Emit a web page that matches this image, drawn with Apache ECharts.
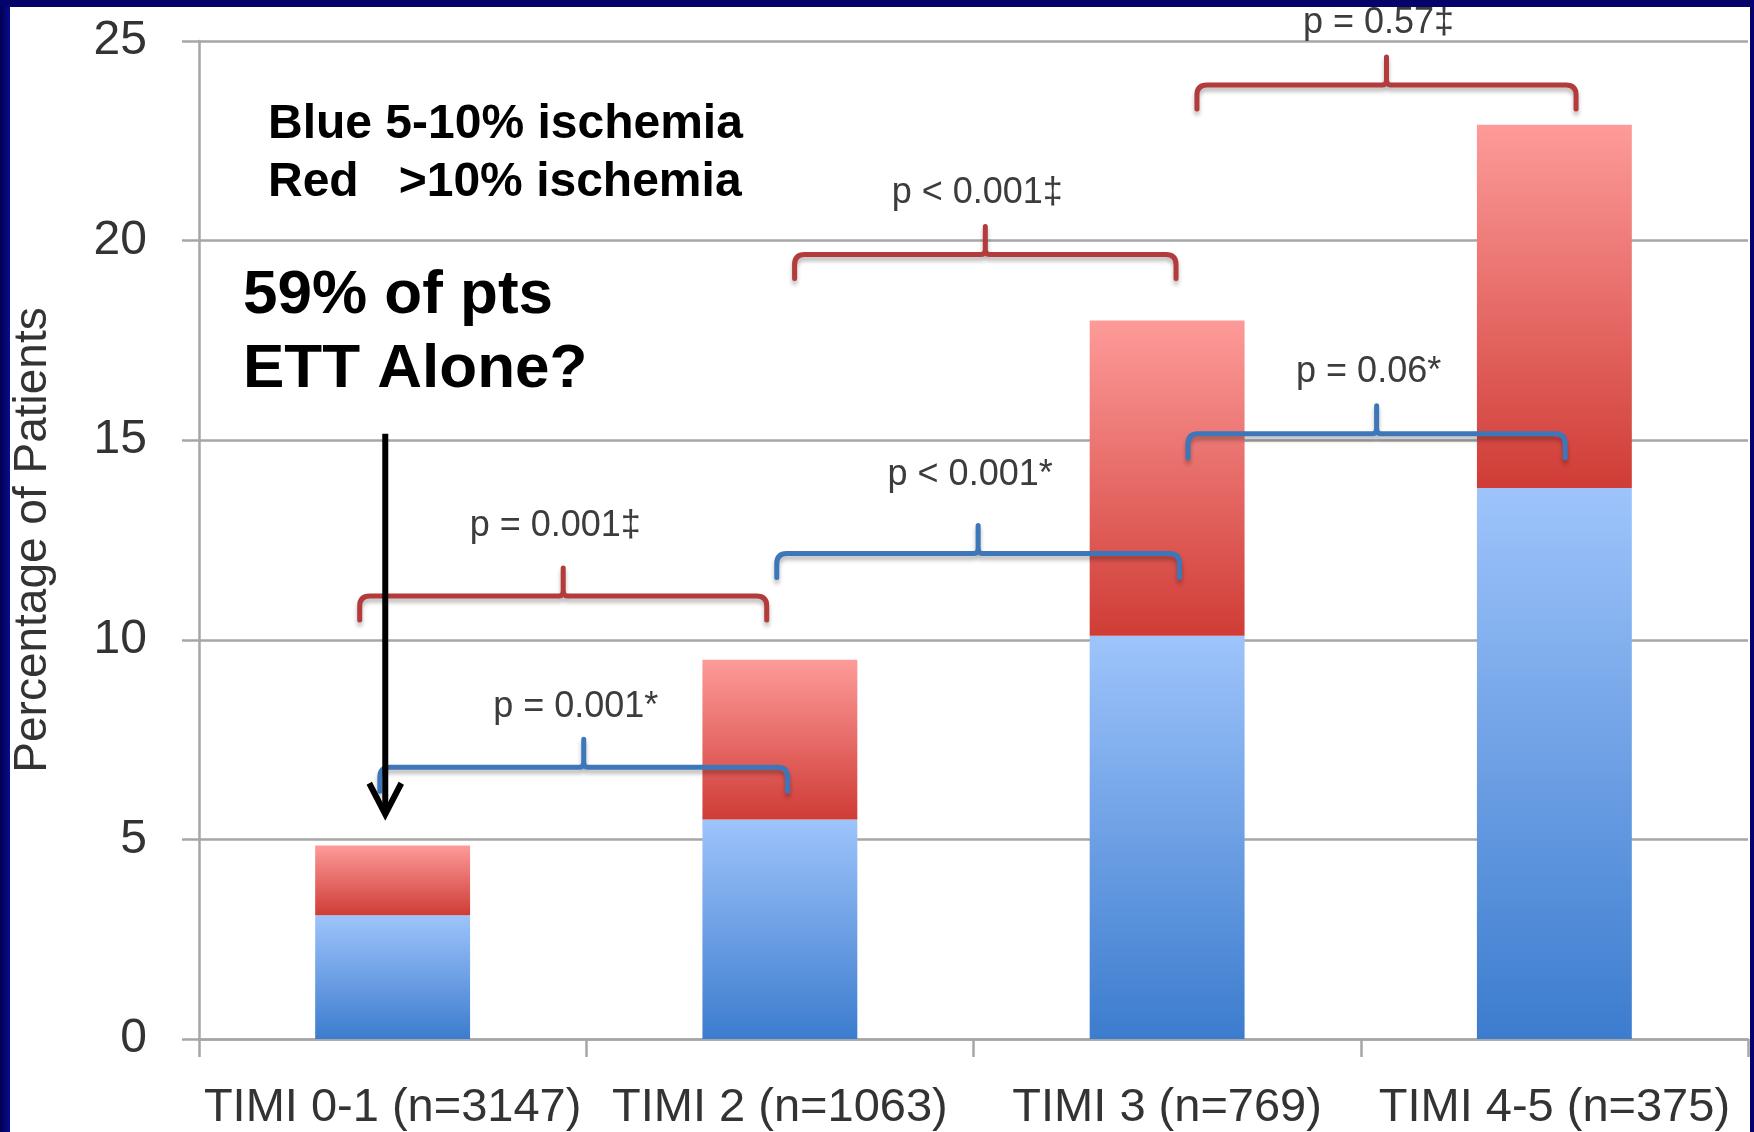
<!DOCTYPE html>
<html>
<head>
<meta charset="utf-8">
<script src="https://cdn.jsdelivr.net/npm/echarts@6/dist/echarts.min.js"></script>
<style>
  html, body { margin: 0; padding: 0; width: 1754px; height: 1132px; overflow: hidden;
    background: linear-gradient(90deg, #00004f 0px, #0a0a96 10px, #03036b 40px, #03036b 100%); }
  #frameTop { position: absolute; left: 0; top: 0; width: 1754px; height: 7px; background: #03036b; }
  #chart { position: absolute; left: 10px; top: 7px; width: 1740px; height: 1125px; background: #ffffff; }
</style>
</head>
<body>
<div id="frameTop"></div>
<div id="chart"></div>
<script>
// Categories and stacked values (percentage of patients)
const categories = ['TIMI 0-1 (n=3147)', 'TIMI 2 (n=1063)', 'TIMI 3 (n=769)', 'TIMI 4-5 (n=375)'];
const blueValues = [3.1, 5.5, 10.1, 13.8];   // 5-10% ischemia
const redValues  = [1.75, 4.0, 7.9, 9.1];    // >10% ischemia, stacked on blue

// Comparison brackets: [from category, to category, bracket level, label level]
const redBrackets = [
  [-0.085, 0.966, 11.1, 12.86],
  [1.038, 2.023, 19.65, 21.2],
  [2.077, 3.056, 23.9, 25.45]
];
const redBracketLabels = ['p = 0.001\u2021', 'p < 0.001\u2021', 'p = 0.57\u2021'];
const blueBrackets = [
  [-0.033, 1.02, 6.81, 8.32],
  [0.992, 2.032, 12.16, 14.13],
  [2.054, 3.028, 15.16, 16.7]
];
const blueBracketLabels = ['p = 0.001*', 'p < 0.001*', 'p = 0.06*'];

// Pointer arrow: [category position, top value, tip value]
const arrowSpan = [[-0.019, 15.16, 5.63]];

const FONT = '"Liberation Sans", Arial, Helvetica, sans-serif';

function bracketRenderer(color, labels) {
  return function (params, api) {
    const a = api.coord([api.value(0), api.value(2)]);
    const b = api.coord([api.value(1), api.value(2)]);
    const y = a[1], xa = a[0], xb = b[0], xm = (xa + xb) / 2;
    const hook = 24, r = 10, tick = 28;
    const d =
      'M' + xa + ',' + (y + hook) + ' L' + xa + ',' + (y + r) +
      ' Q' + xa + ',' + y + ' ' + (xa + r) + ',' + y +
      ' L' + (xm - 4) + ',' + y + ' Q' + xm + ',' + y + ' ' + xm + ',' + (y - 6) +
      ' L' + xm + ',' + (y - tick) +
      ' M' + xm + ',' + (y - 6) + ' Q' + xm + ',' + y + ' ' + (xm + 4) + ',' + y +
      ' L' + (xb - r) + ',' + y + ' Q' + xb + ',' + y + ' ' + xb + ',' + (y + r) +
      ' L' + xb + ',' + (y + hook);
    const lp = api.coord([(api.value(0) + api.value(1)) / 2, api.value(3)]);
    return {
      type: 'group',
      children: [
        {
          type: 'path',
          shape: { pathData: d },
          style: {
            stroke: color, lineWidth: 5, fill: 'none', lineCap: 'round', lineJoin: 'round',
            shadowColor: 'rgba(0,0,0,0.28)', shadowBlur: 4, shadowOffsetY: 4
          }
        },
        {
          type: 'text',
          x: lp[0] - 8,
          y: lp[1],
          style: {
            text: labels[params.dataIndex],
            font: '36px ' + FONT,
            fill: '#3c3c3c',
            align: 'center',
            verticalAlign: 'middle'
          }
        }
      ]
    };
  };
}

function arrowRenderer(params, api) {
  const top = api.coord([api.value(0), api.value(1)]);
  const tip = api.coord([api.value(0), api.value(2)]);
  return {
    type: 'group',
    children: [
      { type: 'line', shape: { x1: top[0], y1: top[1], x2: tip[0], y2: tip[1] - 3 },
        style: { stroke: '#000', lineWidth: 6 } },
      { type: 'polyline', shape: { points: [[tip[0] - 16, tip[1] - 31], [tip[0], tip[1]], [tip[0] + 16, tip[1] - 31]] },
        style: { stroke: '#000', lineWidth: 6, fill: 'none', lineJoin: 'miter' } }
    ]
  };
}

const redGradient = new echarts.graphic.LinearGradient(0, 0, 0, 1, [
  { offset: 0, color: '#fd9b99' },
  { offset: 1, color: '#d03c36' }
]);
const blueGradient = new echarts.graphic.LinearGradient(0, 0, 0, 1, [
  { offset: 0, color: '#9ec4fb' },
  { offset: 1, color: '#3c7cce' }
]);

const chart = echarts.init(document.getElementById('chart'), null, { renderer: 'canvas' });

chart.setOption({
  backgroundColor: '#ffffff',
  animation: false,
  grid: { left: 189, right: 2, top: 34, bottom: 93, outerBoundsMode: 'none', containLabel: false },
  xAxis: [
    {
      type: 'category',
      data: categories,
      axisLine: { lineStyle: { color: '#a6a6a6', width: 2.5 } },
      axisTick: { show: true, length: 18, lineStyle: { color: '#a6a6a6', width: 2.5 } },
      axisLabel: { interval: 0, margin: 46, color: '#333333', fontSize: 47, fontFamily: FONT }
    },
    { type: 'value', min: -0.5, max: 3.5, show: false }
  ],
  yAxis: {
    type: 'value',
    min: 0,
    max: 25,
    interval: 5,
    name: 'Percentage of Patients',
    nameLocation: 'middle',
    nameGap: 143,
    nameTextStyle: { color: '#333333', fontSize: 46, fontFamily: FONT },
    axisLine: { show: true, onZero: false, lineStyle: { color: '#a6a6a6', width: 2.5 } },
    axisTick: { show: true, length: 17, lineStyle: { color: '#a6a6a6', width: 2.5 } },
    axisLabel: { margin: 52, color: '#333333', fontSize: 48, fontFamily: FONT },
    splitLine: { show: true, lineStyle: { color: '#a6a6a6', width: 2.5 } }
  },
  series: [
    {
      name: 'Blue 5-10% ischemia',
      type: 'bar',
      stack: 'total',
      barWidth: '40%',
      data: blueValues,
      itemStyle: { color: blueGradient }
    },
    {
      name: 'Red >10% ischemia',
      type: 'bar',
      stack: 'total',
      barWidth: '40%',
      data: redValues,
      itemStyle: { color: redGradient }
    },
    {
      type: 'custom',
      xAxisIndex: 1,
      z: 5,
      data: redBrackets,
      encode: { x: [0, 1], y: [2, 3] },
      renderItem: bracketRenderer('#b33b3b', redBracketLabels)
    },
    {
      type: 'custom',
      xAxisIndex: 1,
      z: 5,
      data: blueBrackets,
      encode: { x: [0, 1], y: [2, 3] },
      renderItem: bracketRenderer('#3d77b9', blueBracketLabels)
    },
    {
      type: 'custom',
      xAxisIndex: 1,
      z: 6,
      data: arrowSpan,
      encode: { x: 0, y: [1, 2] },
      renderItem: arrowRenderer
    }
  ],
  graphic: [
    { type: 'text', left: 258, top: 94, z: 10,
      style: { text: 'Blue 5-10% ischemia', font: 'bold 48px ' + FONT, fill: '#000' } },
    { type: 'text', left: 258, top: 152, z: 10,
      style: { text: 'Red   >10% ischemia', font: 'bold 48px ' + FONT, fill: '#000' } },
    { type: 'text', left: 233, top: 258, z: 10,
      style: { text: '59% of pts', font: 'bold 62px ' + FONT, fill: '#000' } },
    { type: 'text', left: 233, top: 332, z: 10,
      style: { text: 'ETT Alone?', font: 'bold 62px ' + FONT, fill: '#000' } }
  ]
});
</script>
</body>
</html>
